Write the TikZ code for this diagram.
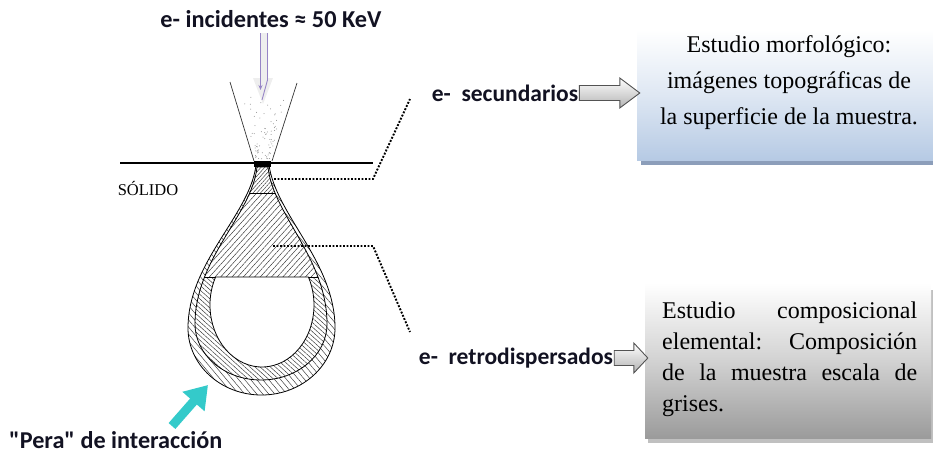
\documentclass[tikz,border=0pt]{standalone}
\usepackage{fontspec}
\setmainfont{Liberation Serif}
\newfontfamily\labfont{Carlito}
\usetikzlibrary{patterns.meta,arrows.meta,calc}

\definecolor{ink}{RGB}{18,18,34}
\definecolor{pearcyan}{RGB}{52,202,202}
\definecolor{beamline}{RGB}{150,132,198}
\definecolor{bluebottom}{RGB}{182,202,228}
\definecolor{blueshadow}{RGB}{140,158,186}
\definecolor{greybottom}{RGB}{155,155,155}
\definecolor{greyshadow}{RGB}{192,192,192}

% outlines of the interaction volume
\def\outerpear{(256,165) .. controls (250,215) and (188,262) .. (188,328)
  arc[start angle=180,end angle=0,x radius=73.5,y radius=67]
  .. controls (335,262) and (276,215) .. (269,165) -- cycle}
\def\midpear{(257,167) .. controls (252,215) and (195,258) .. (195,324)
  arc[start angle=180,end angle=0,x radius=66,y radius=56]
  .. controls (327,258) and (273,215) .. (268,167) -- cycle}
\def\corepear{(215.6,277) arc[start angle=206.85,end angle=-26.85,x radius=52,y radius=62] -- cycle}

% grey block arrow from one anchor to another
\newcommand\blkarrow[3]{%
  \path[blockarrow] let \p1=(#1), \p2=(#2), \n1={\x2+3pt-#3} in
    (\x1+1pt,\y1+7.5pt) -- (\n1,\y1+7.5pt) -- (\n1,\y1+15pt) -- (\x2+3pt,\y1)
    -- (\n1,\y1-15pt) -- (\n1,\y1-7.5pt) -- (\x1+1pt,\y1-7.5pt) -- cycle;}

\begin{document}
\begin{tikzpicture}[x=1pt,y=-1pt,
  lab/.style={font=\labfont\bfseries\fontsize{23.5}{28}\selectfont,text=ink,inner sep=0pt},
  boxtext/.style={font=\fontsize{24}{36}\selectfont,inner sep=0pt},
  dotline/.style={line width=1.9pt,dash pattern=on 1.9pt off 1.6pt},
  blockarrow/.style={top color=white,bottom color=gray!60,draw=gray!65!black,line width=0.9pt},
  hatchA/.style={pattern={Lines[angle=-50,distance=4.6pt,line width=0.45pt]},pattern color=black!80},
  hatchB/.style={pattern={Lines[angle=-42,distance=3.4pt,line width=0.45pt]},pattern color=black!80},
  hatchC/.style={pattern={Lines[angle=48,distance=4.2pt,line width=0.45pt]},pattern color=black!80},
  hatchD/.style={pattern={Lines[angle=48,distance=2.8pt,line width=0.45pt]},pattern color=black!80},
  outline/.style={draw=black,line width=0.8pt}]
\useasboundingbox (0,0) rectangle (933,453);

% incident beam label and arrow
\node[lab,font=\labfont\bfseries\fontsize{24.3}{28}\selectfont] (inc) at (271,19) {e- incidentes ≈ 50 KeV};
\fill[gray!13] (260,33) -- (268,33) -- (268,78) -- (273,78) -- (263,104) -- (253,78) -- (260,78) -- cycle;
\draw[beamline,line width=0.8pt,-{Stealth[length=5pt,width=4pt]}] (260.5,33) -- (260.5,90);
\draw[beamline,line width=0.9pt] (267.5,33) -- (267.5,80) -- (262,100);

% beam cone with scattered dots
\draw[black!80,line width=0.7pt] (230,82) -- (254,161);
\draw[black!80,line width=0.7pt] (297,83) -- (272,161);
\pgfmathsetseed{12}
\foreach \i in {1,...,75}{
  \pgfmathsetmacro\t{sqrt(rnd)}
  \pgfmathsetmacro\u{0.12+0.76*rnd}
  \pgfmathsetmacro\xl{232+22*\t}
  \pgfmathsetmacro\xr{295-23*\t}
  \fill[black!45] ({\xl+(\xr-\xl)*\u},{90+70*\t}) circle (0.5);
}

% interaction volume ("pera")
\fill[white] \outerpear;
\fill[hatchA] \outerpear;
\fill[white] \midpear;
\fill[hatchB] \midpear;
\begin{scope}
  \clip \midpear;
  \fill[white] (150,150) rectangle (350,277);
  \fill[hatchC] (150,150) rectangle (350,277);
  \fill[white] (150,150) rectangle (350,193);
  \fill[hatchD] (150,150) rectangle (350,193);
  \draw[line width=0.9pt] (150,277) -- (350,277);
  \draw[line width=0.9pt] (150,193) -- (350,193);
\end{scope}
\fill[white] \corepear;
\draw[outline] \outerpear;
\draw[outline] \midpear;
\draw[outline] \corepear;

% sample surface
\draw[line width=1.6pt] (120,163) -- (373,163);
\fill[black] (254,160.5) rectangle (271,166.5);
\node[font=\fontsize{16.5}{18}\selectfont,inner sep=0pt] (sol) at (148,188) {SÓLIDO};

% leader lines to the signal labels
\coordinate (s0) at (274,179);
\coordinate (s1) at (373,179);
\coordinate (s2) at (410,99);
\draw[dotline] (s0) -- (s1) -- (s2);
\coordinate (r0) at (273,246);
\coordinate (r1) at (373,246);
\coordinate (r2) at (410,332);
\draw[dotline] (r0) -- (r1) -- (r2);

\node[lab] (sec) at (505,93) {e-\ \ secundarios};
\node[lab] (ret) at (516,358) {e-\ \ retrodispersados};

% information boxes
\fill[blueshadow] (641,34) rectangle (933,164.5);
\node[minimum width=296pt,minimum height=130pt,inner sep=0pt,
      top color=white,bottom color=bluebottom,middle color=white!55!bluebottom]
      (box1) at (785,95) {};
\node[boxtext,align=center] (t1) at (789,83)
  {Estudio morfológico:\\imágenes topográficas de\\la superficie de la muestra.};

\fill[greyshadow] (648,290) rectangle (933,443);
\node[minimum width=286pt,minimum height=155pt,inner sep=0pt,
      top color=white,bottom color=greybottom,middle color=white!55!greybottom]
      (box2) at (788,360.5) {};
\node[boxtext,font=\fontsize{24}{31}\selectfont,text width=255pt,align=left,anchor=west]
  (t2) at (662,359)
  {\makebox[255pt]{Estudio\hfill composicional}\\
   \makebox[255pt]{elemental:\hfill Composición}\\
   \makebox[255pt]{de\hfill la\hfill muestra\hfill escala\hfill de}\\
   grises.};

% block arrows from the labels to the boxes
\blkarrow{sec.east}{box1.west}{20pt}
\blkarrow{ret.east}{box2.west}{14pt}

% pointer to the interaction volume
\node[lab,anchor=west,font=\labfont\bfseries\fontsize{24.2}{28}\selectfont] (pera) at (9,440) {"Pera" de interacción};
\coordinate (pa) at (172,426);
\coordinate (pb) at (208,385);
\draw[pearcyan,line width=9pt,-{Triangle[width=28pt,length=22pt]}] (pa) -- (pb);
\end{tikzpicture}
\end{document}
